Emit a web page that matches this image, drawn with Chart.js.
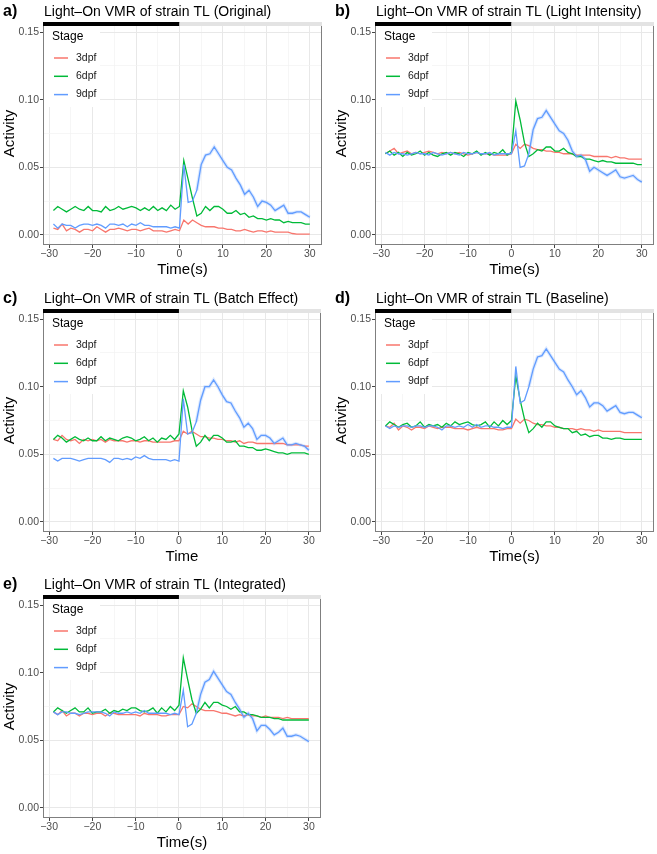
<!DOCTYPE html>
<html>
<head>
<meta charset="utf-8">
<script src="https://cdn.jsdelivr.net/npm/chart.js@4/dist/chart.umd.min.js"></script>
<style>
  body { margin: 0; background: #fff; }
  #wrap { position: relative; width: 657px; height: 854px; }
  canvas { position: absolute; }
</style>
</head>
<body>
<div id="wrap"></div>
<script>
// time axis (s) and tick lists
const times = [-29,-28,-27,-26,-25,-24,-23,-22,-21,-20,-19,-18,-17,-16,-15,-14,-13,-12,-11,-10,
  -9,-8,-7,-6,-5,-4,-3,-2,-1,0,1,2,3,4,5,6,7,8,9,10,11,12,13,14,15,16,17,18,19,20,
  21,22,23,24,25,26,27,28,29,30];
const stages = ["3dpf", "6dpf", "9dpf"];
const xTicks = [-30,-25,-20,-15,-10,-5,0,5,10,15,20,25,30];
const yTicks = [0,0.025,0.05,0.075,0.1,0.125,0.15];

// a) Original
const orig3 = [0.005,0.004,0.008,0.003,0.005,0.004,0.002,0.004,0.004,0.003,0.006,0.004,0.002,0.004,0.004,0.005,0.004,0.003,0.004,0.004,
  0.003,0.004,0.005,0.003,0.003,0.003,0.002,0.003,0.004,0.003,0.011,0.008,0.011,0.009,0.007,0.006,0.006,0.006,0.005,0.005,
  0.004,0.004,0.003,0.003,0.004,0.003,0.002,0.003,0.003,0.002,0.003,0.002,0.002,0.002,0.002,0.001,0.0005,0.0005,0.0005,0.0005];
const orig6 = [0.018,0.021,0.019,0.017,0.019,0.021,0.019,0.018,0.021,0.018,0.018,0.017,0.021,0.018,0.019,0.021,0.019,0.020,0.021,0.020,
  0.018,0.020,0.018,0.021,0.018,0.020,0.018,0.022,0.019,0.021,0.055,0.041,0.027,0.014,0.016,0.021,0.018,0.021,0.021,0.019,
  0.016,0.016,0.018,0.015,0.016,0.013,0.014,0.012,0.012,0.011,0.012,0.011,0.011,0.009,0.010,0.009,0.009,0.009,0.008,0.008];
const orig9 = [0.008,0.005,0.008,0.007,0.007,0.005,0.007,0.008,0.008,0.007,0.008,0.007,0.005,0.008,0.008,0.007,0.008,0.006,0.008,0.007,
  0.009,0.007,0.007,0.006,0.006,0.006,0.006,0.005,0.006,0.005,0.052,0.024,0.025,0.033,0.052,0.059,0.060,0.065,0.060,0.055,
  0.050,0.048,0.042,0.037,0.030,0.033,0.028,0.021,0.025,0.024,0.022,0.018,0.020,0.022,0.016,0.016,0.017,0.017,0.015,0.013];

// b) Light Intensity
const light3 = [0.060,0.062,0.064,0.060,0.061,0.062,0.060,0.061,0.060,0.061,0.062,0.061,0.060,0.061,0.060,0.061,0.060,0.061,0.060,0.059,
  0.060,0.061,0.060,0.060,0.060,0.059,0.059,0.059,0.059,0.060,0.067,0.064,0.067,0.066,0.064,0.063,0.063,0.062,0.062,0.061,
  0.061,0.060,0.060,0.060,0.059,0.059,0.059,0.059,0.058,0.058,0.058,0.058,0.057,0.058,0.057,0.057,0.056,0.056,0.056,0.056];
const light6 = [0.060,0.062,0.059,0.061,0.058,0.061,0.059,0.060,0.062,0.059,0.061,0.059,0.058,0.060,0.061,0.059,0.061,0.060,0.058,0.061,
  0.060,0.062,0.059,0.061,0.059,0.061,0.060,0.063,0.059,0.061,0.099,0.085,0.068,0.058,0.060,0.063,0.062,0.065,0.065,0.062,
  0.062,0.064,0.061,0.060,0.058,0.058,0.056,0.056,0.055,0.054,0.055,0.054,0.054,0.053,0.053,0.053,0.053,0.053,0.052,0.052];
const light9 = [0.061,0.059,0.061,0.060,0.060,0.059,0.060,0.061,0.060,0.060,0.059,0.061,0.060,0.059,0.060,0.061,0.060,0.059,0.061,0.060,
  0.060,0.061,0.060,0.060,0.061,0.059,0.060,0.060,0.060,0.060,0.077,0.050,0.051,0.060,0.078,0.086,0.087,0.092,0.087,0.082,
  0.077,0.075,0.070,0.062,0.058,0.059,0.056,0.047,0.050,0.048,0.046,0.044,0.046,0.048,0.043,0.042,0.043,0.044,0.041,0.039];

// c) Batch Effect
const batch3 = [0.061,0.060,0.064,0.061,0.060,0.061,0.058,0.061,0.060,0.061,0.060,0.061,0.059,0.061,0.060,0.060,0.060,0.059,0.060,0.060,
  0.059,0.060,0.060,0.059,0.059,0.059,0.059,0.059,0.060,0.060,0.067,0.065,0.067,0.065,0.063,0.063,0.062,0.062,0.061,0.061,
  0.060,0.060,0.059,0.060,0.058,0.059,0.059,0.058,0.058,0.058,0.058,0.058,0.058,0.058,0.057,0.057,0.057,0.057,0.056,0.056];
const batch6 = [0.061,0.064,0.062,0.059,0.061,0.063,0.061,0.060,0.062,0.060,0.060,0.063,0.060,0.062,0.061,0.060,0.062,0.063,0.062,0.060,
  0.061,0.063,0.060,0.062,0.059,0.062,0.061,0.064,0.061,0.065,0.097,0.085,0.068,0.056,0.059,0.064,0.060,0.064,0.064,0.062,
  0.059,0.059,0.060,0.056,0.056,0.055,0.055,0.053,0.053,0.054,0.053,0.052,0.051,0.051,0.050,0.051,0.051,0.051,0.051,0.050];
const batch9 = [0.047,0.045,0.047,0.047,0.047,0.046,0.045,0.046,0.047,0.047,0.047,0.047,0.046,0.044,0.047,0.047,0.046,0.047,0.046,0.048,
  0.047,0.049,0.047,0.046,0.046,0.046,0.046,0.045,0.046,0.045,0.091,0.065,0.066,0.074,0.090,0.100,0.100,0.105,0.100,0.094,
  0.089,0.088,0.082,0.077,0.070,0.073,0.069,0.061,0.064,0.064,0.062,0.058,0.060,0.062,0.057,0.057,0.058,0.057,0.056,0.053];

// d) Baseline
const base3 = [0.071,0.070,0.073,0.068,0.071,0.070,0.068,0.070,0.070,0.069,0.071,0.070,0.069,0.070,0.070,0.070,0.069,0.069,0.069,0.068,
  0.069,0.070,0.069,0.069,0.069,0.069,0.068,0.068,0.069,0.069,0.076,0.073,0.076,0.075,0.073,0.072,0.072,0.071,0.071,0.070,
  0.070,0.069,0.069,0.069,0.068,0.069,0.068,0.068,0.067,0.068,0.067,0.067,0.067,0.067,0.067,0.066,0.066,0.066,0.066,0.066];
const base6 = [0.071,0.074,0.072,0.070,0.072,0.073,0.070,0.071,0.074,0.070,0.072,0.071,0.072,0.070,0.073,0.071,0.074,0.072,0.073,0.074,
  0.072,0.071,0.072,0.074,0.070,0.074,0.071,0.075,0.072,0.075,0.108,0.090,0.076,0.066,0.069,0.073,0.070,0.074,0.074,0.071,
  0.070,0.069,0.069,0.066,0.067,0.064,0.065,0.063,0.064,0.064,0.062,0.062,0.061,0.062,0.062,0.061,0.061,0.061,0.061,0.061];
const base9 = [0.071,0.069,0.071,0.070,0.071,0.071,0.070,0.071,0.071,0.070,0.071,0.071,0.070,0.068,0.071,0.071,0.070,0.071,0.070,0.072,
  0.070,0.072,0.070,0.071,0.071,0.070,0.070,0.069,0.070,0.070,0.115,0.088,0.090,0.100,0.113,0.122,0.123,0.128,0.123,0.118,
  0.113,0.111,0.105,0.100,0.094,0.097,0.092,0.085,0.088,0.088,0.086,0.082,0.084,0.086,0.081,0.080,0.081,0.081,0.079,0.077];

// e) Integrated
const integ3 = [0.071,0.069,0.072,0.068,0.070,0.070,0.068,0.070,0.070,0.069,0.070,0.070,0.068,0.070,0.070,0.069,0.069,0.069,0.069,0.069,
  0.068,0.070,0.069,0.069,0.069,0.068,0.068,0.069,0.069,0.069,0.075,0.074,0.077,0.075,0.073,0.072,0.072,0.072,0.071,0.070,
  0.070,0.069,0.068,0.069,0.068,0.069,0.068,0.068,0.067,0.068,0.067,0.067,0.067,0.066,0.067,0.066,0.066,0.066,0.066,0.066];
const integ6 = [0.071,0.074,0.072,0.070,0.072,0.074,0.071,0.071,0.074,0.070,0.071,0.071,0.073,0.070,0.072,0.071,0.073,0.072,0.074,0.074,
  0.072,0.071,0.072,0.074,0.070,0.074,0.071,0.075,0.072,0.076,0.111,0.095,0.080,0.070,0.073,0.078,0.074,0.078,0.078,0.076,
  0.075,0.073,0.075,0.071,0.071,0.069,0.069,0.068,0.067,0.067,0.067,0.066,0.066,0.065,0.065,0.065,0.065,0.065,0.065,0.065];
const integ9 = [0.071,0.069,0.071,0.071,0.070,0.070,0.069,0.070,0.071,0.071,0.071,0.071,0.070,0.068,0.071,0.070,0.070,0.071,0.070,0.071,
  0.070,0.072,0.070,0.070,0.070,0.070,0.070,0.069,0.070,0.069,0.087,0.060,0.062,0.070,0.084,0.093,0.095,0.101,0.096,0.091,
  0.086,0.084,0.078,0.073,0.067,0.070,0.066,0.057,0.061,0.061,0.058,0.054,0.056,0.059,0.053,0.053,0.054,0.053,0.051,0.049];

const colors = ["#F8766D", "#00BA38", "#619CFF"];
const FONT = "'Liberation Sans', Arial, sans-serif";
Chart.defaults.font.family = FONT;

const panels = [
  { tag: "a)", name: "Original", xTitle: "Time(s)", left: 0, top: 0, w: 328, pad: 6, series: [orig3, orig6, orig9] },
  { tag: "b)", name: "Light Intensity", xTitle: "Time(s)", left: 332, top: 0, w: 325, pad: 3, series: [light3, light6, light9] },
  { tag: "c)", name: "Batch Effect", xTitle: "Time", left: 0, top: 287, w: 328, pad: 7, series: [batch3, batch6, batch9] },
  { tag: "d)", name: "Baseline", xTitle: "Time(s)", left: 332, top: 287, w: 325, pad: 3, series: [base3, base6, base9] },
  { tag: "e)", name: "Integrated", xTitle: "Time(s)", left: 0, top: 573, w: 328, pad: 7, series: [integ3, integ6, integ9] }
];

const isMajor = (v, step) => Math.abs(Math.round(v / step) * step - v) < 1e-9;
const minus = v => (v < 0 ? "\u2212" + Math.abs(v) : String(v));

// border, light-on bar, inside legend and panel titles
const decor = {
  id: "decor",
  afterDatasetsDraw(chart, args, opts) {
    const { ctx, chartArea: a, scales: { x } } = chart;
    ctx.save();
    ctx.strokeStyle = "#7f7f7f";
    ctx.lineWidth = 1;
    ctx.strokeRect(a.left + 0.5, a.top + 0.5, a.width - 1, a.height - 1);

    const x0 = x.getPixelForValue(0);
    ctx.fillStyle = "#000";
    ctx.fillRect(a.left, a.top, x0 - a.left, 4);
    ctx.fillStyle = "#e3e3e3";
    ctx.fillRect(x0, a.top, a.right - x0, 4);

    ctx.fillStyle = "#fff";
    ctx.fillRect(a.left + 1, a.top + 4, 56, 81);
    ctx.fillStyle = "#000";
    ctx.font = "12px " + FONT;
    ctx.textBaseline = "alphabetic";
    ctx.fillText("Stage", a.left + 9, a.top + 18);
    chart.data.datasets.filter(d => d.stage !== undefined)
      .sort((p, q) => p.stage - q.stage)
      .forEach((d, i) => {
        const y = a.top + 36 + i * 18.3;
        ctx.strokeStyle = d.borderColor;
        ctx.lineWidth = 1.5;
        ctx.beginPath();
        ctx.moveTo(a.left + 11, y);
        ctx.lineTo(a.left + 25, y);
        ctx.stroke();
        ctx.fillStyle = "#1a1a1a";
        ctx.font = "10.5px " + FONT;
        ctx.textBaseline = "middle";
        ctx.fillText(d.label, a.left + 33, y);
      });

    ctx.textBaseline = "alphabetic";
    ctx.fillStyle = "#000";
    ctx.font = "bold 16px " + FONT;
    ctx.fillText(opts.tag, 3, 16);
    ctx.font = "14px " + FONT;
    ctx.fillText(opts.title, a.left + 1, 16);
    ctx.restore();
  }
};

const wrap = document.getElementById("wrap");
panels.forEach(p => {
  const cv = document.createElement("canvas");
  cv.width = p.w;
  cv.height = 280;
  cv.style.left = p.left + "px";
  cv.style.top = p.top + "px";
  wrap.appendChild(cv);

  const datasets = p.series.map((vals, i) => ({
    label: stages[i],
    stage: i,
    order: 3 - i,
    data: times.map((t, k) => ({ x: t, y: vals[k] })),
    borderColor: colors[i],
    borderWidth: 1.3,
    pointRadius: 0,
    tension: 0
  }));
  // faint confidence band behind the 9dpf line after light onset
  datasets.push({
    label: "",
    order: 10,
    data: times.map((t, k) => ({ x: t, y: p.series[2][k] })),
    borderColor: "rgba(97,156,255,0)",
    segment: { borderColor: c => (c.p0.parsed.x >= 4 ? "rgba(97,156,255,0.22)" : "rgba(97,156,255,0)") },
    borderWidth: 3.4,
    pointRadius: 0,
    tension: 0
  });

  new Chart(cv, {
    type: "line",
    data: { datasets },
    plugins: [decor],
    options: {
      responsive: false,
      animation: false,
      events: [],
      layout: { padding: { top: 22, right: p.pad, left: 0, bottom: 0 } },
      plugins: {
        legend: { display: false },
        tooltip: { enabled: false },
        decor: { tag: p.tag, title: "Light\u2013On VMR of strain TL (" + p.name + ")" }
      },
      scales: {
        x: {
          type: "linear",
          min: -31.4,
          max: 32.8,
          afterBuildTicks: s => { s.ticks = xTicks.map(v => ({ value: v })); },
          afterFit: s => { s.height = 35; },
          border: { display: false },
          grid: {
            color: c => (isMajor(c.tick.value, 10) ? "#e8e8e8" : "#f2f2f2"),
            lineWidth: c => (isMajor(c.tick.value, 10) ? 1 : 0.7),
            tickLength: 3,
            tickColor: c => (isMajor(c.tick.value, 10) ? "#444" : "rgba(0,0,0,0)")
          },
          ticks: {
            autoSkip: false,
            maxRotation: 0,
            padding: 0,
            color: "#4d4d4d",
            font: { size: 10.5 },
            callback: v => (isMajor(v, 10) ? minus(v) : "")
          },
          title: { display: true, text: p.xTitle, color: "#000", font: { size: 15 }, padding: { top: 0, bottom: 1 } }
        },
        y: {
          min: -0.0075,
          max: 0.1575,
          afterBuildTicks: s => { s.ticks = yTicks.map(v => ({ value: v })); },
          afterFit: s => { s.width = 43; },
          border: { display: false },
          grid: {
            color: c => (isMajor(c.tick.value, 0.05) ? "#e8e8e8" : "#f2f2f2"),
            lineWidth: c => (isMajor(c.tick.value, 0.05) ? 1 : 0.7),
            tickLength: 3,
            tickColor: c => (isMajor(c.tick.value, 0.05) ? "#444" : "rgba(0,0,0,0)")
          },
          ticks: {
            autoSkip: false,
            padding: 1,
            color: "#4d4d4d",
            font: { size: 10.5 },
            callback: v => (isMajor(v, 0.05) ? v.toFixed(2) : "")
          },
          title: { display: true, text: "Activity", color: "#000", font: { size: 15 }, padding: { top: 1, bottom: 0 } }
        }
      }
    }
  });
});
</script>
</body>
</html>
